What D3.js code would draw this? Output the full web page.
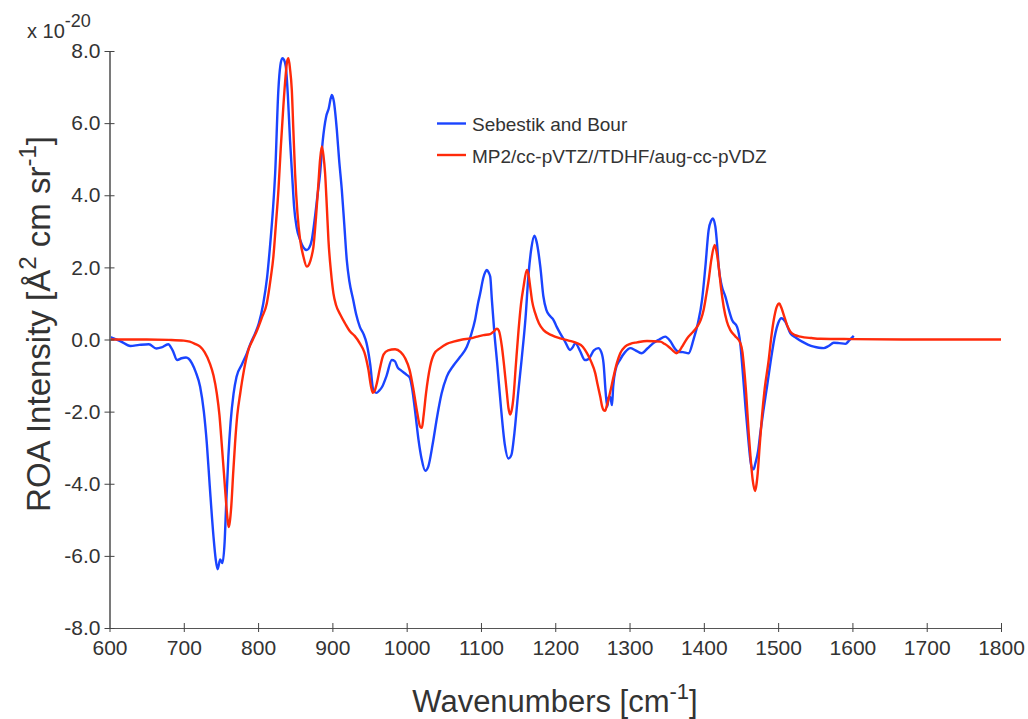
<!DOCTYPE html>
<html>
<head>
<meta charset="utf-8">
<script src="https://cdn.jsdelivr.net/npm/d3@7"></script>
<style>
  html, body { margin: 0; padding: 0; background: #fff; }
  svg { display: block; font-family: "Liberation Sans", Arial, Helvetica, sans-serif; }
</style>
</head>
<body>
<svg id="chart" width="1028" height="719"></svg>
<script>
// ROA spectra: experimental (Sebestik and Bour) vs. computed (MP2//TDHF)
const seriesNames = ["Sebestik and Bour", "MP2/cc-pVTZ//TDHF/aug-cc-pVDZ"];
const seriesColors = ["#1a44ff", "#ff2a0a"];

const xTicks = [600, 700, 800, 900, 1000, 1100, 1200, 1300, 1400, 1500, 1600, 1700, 1800];
const yTicks = [-8, -6, -4, -2, 0, 2, 4, 6, 8];

// experimental spectrum: [wavenumber, intensity x 1e-20]
const expWavenumber = [600,615,628,640,653,663,670,679,685,691,697,703,711,716,722,727,731,735,740,743,745.5,749,752,755,757,760,763,767,771,778,785,790,796,801,807,812,816,820,823,827.3,830,832.7,835,837.3,840,843,846,848.5,852,856.6,861,865.6,869,872.3,876,880,883.5,887,891.6,895,899.2,902,906,909,912.7,916,919.4,923,928,932,937,942,946,951,955,959,963,967,973,980,984,988,992,1000,1004,1007,1012,1016,1020,1025,1029,1035,1041,1047,1054,1063,1072,1081,1087,1092,1096,1099,1103,1106,1108,1110.5,1112.5,1114.7,1118,1122,1127,1132,1137,1141,1145,1150,1155,1160,1164,1168,1172,1175,1180,1184,1188,1193,1197.7,1202,1206.7,1213,1220,1224,1227,1233,1240,1244,1247,1252,1258,1262,1265,1268,1270,1272,1274,1276.4,1278,1281,1287.5,1294,1301,1308,1316,1324,1332,1340,1348,1355,1361,1366,1372,1379.5,1386,1392,1397.6,1402,1406.5,1410,1412,1415.5,1418,1420,1424,1429,1434,1438,1444.7,1449,1452,1456,1460,1463,1465,1467,1469.4,1473,1476,1480,1485,1490,1496.3,1500,1504.4,1509.8,1516.5,1524,1532.3,1540,1548,1555,1561.3,1568,1574.8,1582,1590.6,1596,1601.8];
const expIntensity = [0.07,-0.05,-0.18,-0.15,-0.13,-0.25,-0.22,-0.13,-0.3,-0.57,-0.52,-0.5,-0.66,-0.9,-1.31,-2.0,-2.88,-4.08,-5.47,-6.1,-6.37,-6.1,-6.2,-5.6,-4.6,-3.25,-2.3,-1.5,-1.03,-0.7,-0.38,-0.1,0.17,0.45,1.0,1.7,2.57,3.6,4.61,6.92,7.6,7.8,7.75,7.57,6.8,5.53,4.5,3.68,3.1,2.76,2.55,2.48,2.55,2.76,3.3,4.0,4.61,5.5,6.18,6.4,6.78,6.6,5.81,5.0,4.15,3.2,2.2,1.6,1.1,0.7,0.35,0.15,-0.1,-0.7,-1.4,-1.48,-1.42,-1.31,-1.0,-0.57,-0.6,-0.78,-0.85,-0.98,-1.05,-1.31,-2.1,-2.79,-3.3,-3.64,-3.53,-2.9,-2.14,-1.5,-1.03,-0.72,-0.48,-0.2,0.15,0.54,1.0,1.28,1.7,1.88,1.93,1.85,1.74,1.1,0.2,-0.7,-1.9,-2.9,-3.3,-3.2,-2.6,-1.5,-0.5,0.6,1.8,2.55,2.88,2.7,2.0,1.2,0.82,0.65,0.54,0.35,0.17,-0.05,-0.29,-0.2,-0.1,-0.3,-0.57,-0.55,-0.48,-0.3,-0.24,-0.35,-0.66,-1.5,-1.86,-1.6,-1.59,-1.82,-1.3,-0.85,-0.55,-0.35,-0.24,-0.3,-0.38,-0.25,-0.1,0.0,0.08,-0.05,-0.25,-0.34,-0.35,-0.38,-0.01,0.45,1.1,2.0,3.04,3.3,3.36,3.13,2.6,2.02,1.5,1.19,0.8,0.54,0.35,-0.1,-0.8,-1.86,-2.8,-3.4,-3.57,-3.6,-3.43,-3.1,-2.6,-2.0,-1.31,-0.6,0.17,0.45,0.59,0.49,0.17,0.05,-0.06,-0.14,-0.2,-0.23,-0.24,-0.18,-0.09,-0.1,-0.12,-0.02,0.1];

// computed spectrum: [wavenumber, intensity x 1e-20]
const calcWavenumber = [600,650,680,700,708,715,722,728,735,740,744.4,748,751,754,757,759,760.5,762,764,766.5,769,772,776,781,787,793,798,805,811.7,817,820.6,824,827.4,830.5,834,837,839,840.8,843,845.4,847.5,849.8,853,856.6,861,865.6,869,872,874.5,878,881.2,883.5,885.8,888,890.2,892.5,894.7,898,901.4,905,910.4,917,923.9,930,937.4,943,948.6,952,954.5,957,959.9,964,968.8,975,984.5,992,998,1004,1009.2,1014,1018.2,1020.5,1022.6,1026,1031.6,1037,1045.1,1054,1063,1075,1085.5,1095,1103.4,1112.5,1117,1121.5,1124,1128.2,1131,1134.9,1137,1139.4,1141.5,1143.8,1147,1150.6,1154,1157.3,1161.8,1164,1166.3,1169,1173,1178,1184.3,1195,1206.7,1218,1229.2,1237,1242.7,1248,1253.9,1257,1260.6,1263,1265,1267,1269.6,1274,1278.5,1283,1287.5,1294,1301,1310,1323.5,1341.4,1347,1352.6,1358,1363,1367,1370.7,1375,1379.5,1385,1390.8,1396,1399.7,1403,1406.5,1410,1414.6,1417,1420,1423,1426.7,1431,1435.7,1442,1449.2,1452,1453.6,1457,1460.4,1463,1465.8,1468.9,1471,1472.5,1475,1478.2,1482,1487.3,1491,1494.9,1498,1501.6,1504,1508.4,1512,1516.5,1523,1530,1545,1557,1600,1700,1800];
const calcIntensity = [0,0,-0.01,-0.03,-0.06,-0.12,-0.2,-0.35,-0.66,-1.0,-1.49,-2.1,-2.88,-3.7,-4.54,-5.0,-5.2,-5.05,-4.6,-3.7,-2.88,-2.1,-1.49,-0.85,-0.29,0.0,0.22,0.6,1.0,1.7,2.3,3.2,4.15,5.3,6.46,7.3,7.7,7.8,7.5,6.92,5.8,4.61,3.5,2.76,2.3,2.02,2.1,2.3,2.57,3.4,4.33,5.0,5.35,5.1,4.61,3.7,2.76,1.9,1.28,0.95,0.7,0.45,0.22,0.1,-0.12,-0.35,-0.85,-1.3,-1.48,-1.42,-1.21,-0.8,-0.42,-0.3,-0.27,-0.35,-0.52,-0.85,-1.4,-2.0,-2.42,-2.45,-2.14,-1.5,-0.75,-0.4,-0.24,-0.12,-0.06,0.0,0.03,0.08,0.12,0.15,0.22,0.3,0.25,-0.2,-0.7,-1.49,-1.9,-2.08,-1.95,-1.59,-0.7,0.26,1.0,1.46,1.93,1.8,1.46,1.05,0.73,0.45,0.26,0.12,0.03,-0.03,-0.1,-0.2,-0.38,-0.6,-0.94,-1.25,-1.59,-1.85,-1.96,-1.98,-1.82,-1.45,-1.03,-0.65,-0.38,-0.2,-0.12,-0.08,-0.04,-0.06,-0.12,-0.2,-0.3,-0.38,-0.32,-0.2,-0.05,0.08,0.2,0.35,0.55,0.82,1.2,1.65,2.2,2.62,2.45,2.02,1.45,0.91,0.5,0.26,0.1,-0.1,-0.35,-0.66,-1.5,-2.6,-3.3,-3.9,-4.2,-4.0,-3.71,-3.0,-2.14,-1.35,-0.57,0.1,0.63,0.9,1.0,0.9,0.63,0.4,0.22,0.12,0.08,0.04,0.02,0.01,0,0];

const svg = d3.select("#chart");
const textColor = "#333";

const x = d3.scaleLinear().domain([600, 1800]).range([109.5, 1001]);
const y = d3.scaleLinear().domain([-8, 8]).range([628, 51]);

// spectra
const line = d3.line()
  .x(d => x(d[0]))
  .y(d => y(d[1]))
  .curve(d3.curveMonotoneX);

const series = [
  d3.zip(expWavenumber, expIntensity),
  d3.zip(calcWavenumber, calcIntensity)
];

svg.append("g").selectAll("path")
  .data(series)
  .join("path")
  .attr("d", line)
  .attr("fill", "none")
  .attr("stroke", (d, i) => seriesColors[i])
  .attr("stroke-width", 2.4)
  .attr("stroke-linejoin", "round");

// x axis
const xAxis = svg.append("g")
  .attr("transform", `translate(0,${y(-8)})`)
  .call(d3.axisBottom(x).tickValues(xTicks).tickFormat(d3.format("d")).tickSizeOuter(0));
xAxis.select(".domain").attr("stroke", "#555").attr("stroke-width", 1.2);
xAxis.selectAll(".tick line").attr("y1", -5).attr("y2", 4).attr("stroke", "#444");
xAxis.selectAll(".tick text")
  .attr("y", 12)
  .attr("fill", textColor)
  .style("font-size", "21px")
  .style("font-family", "'Liberation Sans', Arial, Helvetica, sans-serif");

// y axis (plain hyphen for negative labels)
const fmtY = d => d3.format(".1f")(d).replace("\u2212", "-");
const yAxis = svg.append("g")
  .attr("transform", `translate(${x(600)},0)`)
  .call(d3.axisLeft(y).tickValues(yTicks).tickFormat(fmtY).tickSizeOuter(0));
yAxis.select(".domain").attr("stroke", "#7a7a7a").attr("stroke-width", 2);
yAxis.selectAll(".tick line").attr("x1", 5).attr("x2", -5).attr("stroke", "#444");
yAxis.selectAll(".tick text")
  .attr("x", -9)
  .attr("fill", textColor)
  .style("font-size", "21px")
  .style("font-family", "'Liberation Sans', Arial, Helvetica, sans-serif");

// scale factor note
const sf = svg.append("text")
  .attr("x", 27).attr("y", 38)
  .attr("fill", textColor)
  .style("font-size", "20px");
sf.append("tspan").text("x 10");
sf.append("tspan").attr("dy", -11).style("font-size", "18px").text("-20");

// x axis title
const xt = svg.append("text")
  .attr("x", 555).attr("y", 712)
  .attr("text-anchor", "middle")
  .attr("fill", textColor)
  .style("font-size", "31px");
xt.append("tspan").text("Wavenumbers [cm");
xt.append("tspan").attr("dy", -13).style("font-size", "22px").text("-1");
xt.append("tspan").attr("dy", 13).text("]");

// y axis title
const yt = svg.append("text")
  .attr("transform", "translate(50,324) rotate(-90)")
  .attr("text-anchor", "middle")
  .attr("fill", textColor)
  .style("font-size", "33px");
yt.append("tspan").text("ROA Intensity [Å");
yt.append("tspan").attr("dy", -14).style("font-size", "24px").text("2");
yt.append("tspan").attr("dy", 14).text(" cm sr");
yt.append("tspan").attr("dy", -14).style("font-size", "24px").text("-1");
yt.append("tspan").attr("dy", 14).text("]");

// legend
const legend = svg.append("g");
const rows = legend.selectAll("g")
  .data(seriesNames)
  .join("g")
  .attr("transform", (d, i) => `translate(437,${123.5 + i * 31.5})`);
rows.append("line")
  .attr("x1", 0).attr("x2", 29)
  .attr("stroke", (d, i) => seriesColors[i])
  .attr("stroke-width", 2.4);
rows.append("text")
  .attr("x", 35).attr("y", 7.5)
  .attr("fill", textColor)
  .style("font-size", "19px")
  .text(d => d);
</script>
</body>
</html>
